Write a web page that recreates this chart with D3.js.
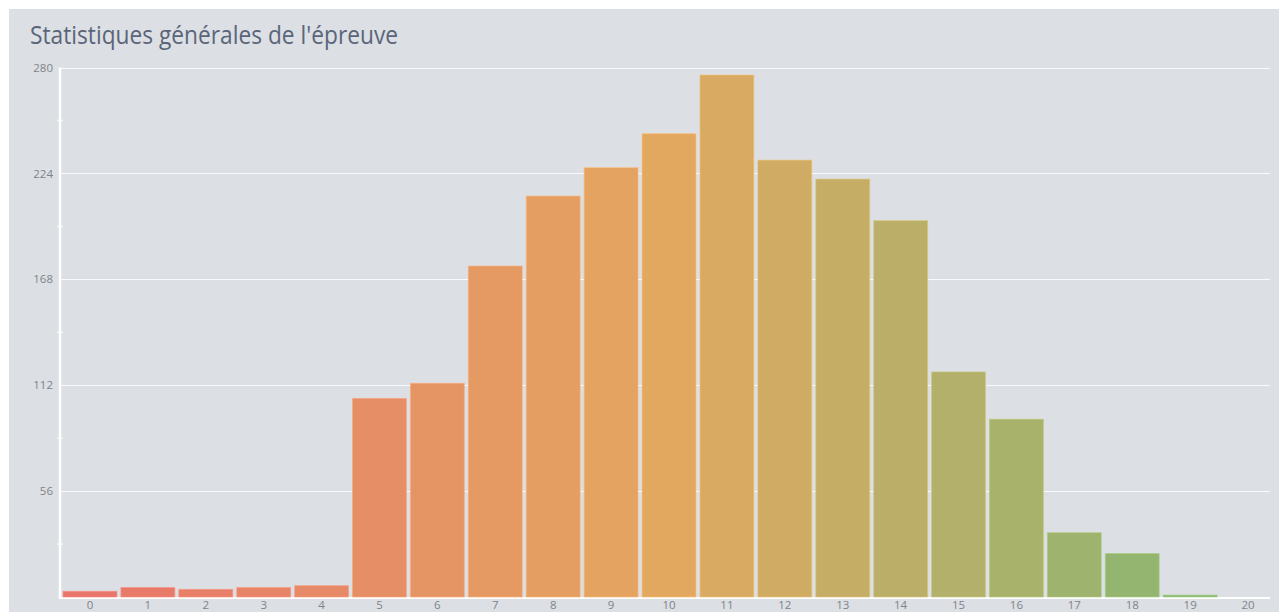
<!DOCTYPE html>
<html>
<head>
<meta charset="utf-8">
<script src="https://cdn.jsdelivr.net/npm/d3@7"></script>
<style>
  html, body { margin: 0; padding: 0; background: #ffffff; }
  svg { display: block; }
</style>
</head>
<body>
<svg id="chart" width="1279" height="612"></svg>
<script>
// Grades 0..20 and number of students per grade
const grades = ["0","1","2","3","4","5","6","7","8","9","10","11","12","13","14","15","16","17","18","19","20"];
const counts = [3, 5, 4, 5, 6, 105, 113, 175, 212, 227, 245, 276, 231, 221, 199, 119, 94, 34, 23, 1, 0];
const yTicks = [56, 112, 168, 224, 280];
const titleText = "Statistiques générales de l'épreuve";

const W = 1279, H = 612;
const svg = d3.select("#chart");

// card background
svg.append("rect")
  .attr("x", 9).attr("y", 9)
  .attr("width", W - 9).attr("height", H - 9)
  .attr("fill", "#dcdfe4");

svg.append("text")
  .attr("x", 30).attr("y", 44)
  .attr("font-family", "'Open Sans', sans-serif")
  .attr("font-size", 25.5)
  .attr("textLength", 368)
  .attr("lengthAdjust", "spacingAndGlyphs")
  .attr("fill", "#5b6579")
  .text(titleText);

const plotLeft = 61, plotRight = 1277, plotTop = 67.5, plotBottom = 597;

const x = d3.scaleBand().domain(grades).range([plotLeft, plotRight]).paddingInner(0.07).paddingOuter(0.035);
const y = d3.scaleLinear().domain([0, 280]).range([plotBottom, plotTop]);

const color = d3.scaleLinear()
  .domain([0, 10, 20])
  .range(["#e8756b", "#e3a860", "#80b873"])
  .interpolate(d3.interpolateRgb);

// horizontal grid lines
svg.append("g")
  .selectAll("line")
  .data(yTicks)
  .join("line")
  .attr("x1", plotLeft).attr("x2", 1270)
  .attr("y1", d => Math.round(y(d)) + 0.5).attr("y2", d => Math.round(y(d)) + 0.5)
  .attr("stroke", "#ffffff").attr("stroke-opacity", 0.85).attr("stroke-width", 1);

// x baseline
svg.append("line")
  .attr("x1", plotLeft - 2).attr("x2", 1270)
  .attr("y1", plotBottom + 1).attr("y2", plotBottom + 1)
  .attr("stroke", "#ffffff").attr("stroke-width", 2);

// bars
svg.append("g")
  .selectAll("rect")
  .data(counts)
  .join("rect")
  .attr("x", (d, i) => x(grades[i]))
  .attr("width", x.bandwidth())
  .attr("y", d => y(d))
  .attr("height", d => y(0) - y(d))
  .attr("fill", (d, i) => color(i))
  .attr("stroke", (d, i) => d3.color(color(i)).brighter(0.35))
  .attr("stroke-width", 1)
  .attr("stroke-opacity", 0.6);

// y axis line
svg.append("line")
  .attr("x1", 60).attr("x2", 60)
  .attr("y1", plotTop).attr("y2", plotBottom + 2)
  .attr("stroke", "#ffffff").attr("stroke-width", 2.5);

// y axis labels
const yAxis = d3.axisLeft(y).tickValues(yTicks).tickSize(0).tickPadding(7);
const gy = svg.append("g").attr("transform", "translate(60,0)").call(yAxis);
gy.select(".domain").remove();
gy.selectAll("text")
  .attr("font-family", "'Open Sans', sans-serif")
  .attr("font-size", 11.5)
  .attr("fill", "#808388");

// small minor ticks between labelled values
svg.append("g")
  .selectAll("line")
  .data([28, 84, 140, 196, 252])
  .join("line")
  .attr("x1", 57).attr("x2", 63)
  .attr("y1", d => y(d)).attr("y2", d => y(d))
  .attr("stroke", "#ffffff").attr("stroke-width", 1.5).attr("stroke-opacity", 0.7);

// x axis labels
const xAxis = d3.axisBottom(x).tickSize(0).tickPadding(4);
const gx = svg.append("g").attr("transform", `translate(0,${plotBottom})`).call(xAxis);
gx.select(".domain").remove();
gx.selectAll("text")
  .attr("font-family", "'Open Sans', sans-serif")
  .attr("font-size", 11.5)
  .attr("fill", "#808388");
</script>
</body>
</html>
